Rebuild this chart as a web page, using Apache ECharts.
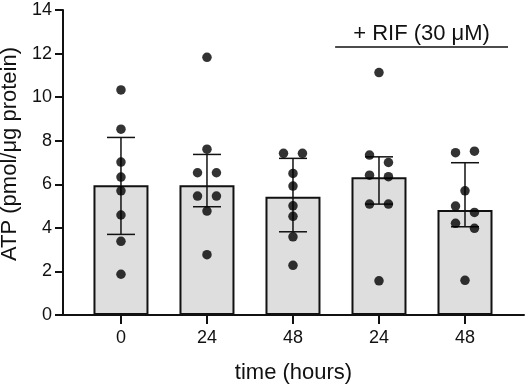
<!DOCTYPE html>
<html>
<head>
<meta charset="utf-8">
<script src="https://cdn.jsdelivr.net/npm/echarts@6/dist/echarts.min.js"></script>
<style>
  html, body { margin: 0; padding: 0; background: #fff; }
  #chart { width: 526px; height: 385px; }
</style>
</head>
<body>
<div id="chart"></div>
<script>
// group labels on the x axis (time in hours; last two are + RIF)
const groups = ['0', '24', '48', '24', '48'];
// bar height = median, whiskers = interquartile range
const medians = [5.96, 5.96, 5.43, 6.32, 4.82];
const lowerQ = [3.70, 4.97, 3.82, 5.09, 4.05];
const upperQ = [8.15, 7.37, 7.19, 7.26, 6.99];
// individual replicate values per group
const points = [
  [10.33, 8.53, 7.02, 6.33, 5.70, 4.59, 3.38, 1.87],
  [11.83, 7.61, 6.53, 6.53, 5.46, 5.46, 4.77, 2.77],
  [7.42, 7.42, 6.50, 5.92, 5.01, 4.53, 3.59, 2.28],
  [11.13, 7.34, 7.00, 6.42, 6.35, 5.09, 5.09, 1.57],
  [7.52, 7.45, 5.70, 5.00, 4.71, 4.21, 3.98, 1.59]
];
// horizontal scatter of the dots, in category units
const jitter = [
  [0, 0, 0, 0, 0, 0, 0, 0],
  [0, 0, -0.11, 0.11, -0.11, 0.11, 0, 0],
  [-0.11, 0.11, 0, 0, 0, 0, 0, 0],
  [0, -0.11, 0.11, -0.11, 0.11, -0.11, 0.11, 0],
  [0.11, -0.11, 0, -0.11, 0.11, -0.11, 0.11, 0]
];
const rifLabel = '+ RIF (30 μM)';
const rifSpan = [2.49, 4.5];
const rifLevel = 12.32;

const FONT = 'Arial, "Liberation Sans", sans-serif';
const INK = '#111';

const groupIdx = groups.map((_, i) => i);
const barData = medians.map((m, i) => [i, m]);
const errData = medians.map((m, i) => [i, lowerQ[i], upperQ[i]]);
const dotData = [];
points.forEach((vals, i) => {
  vals.forEach((v, j) => dotData.push([i + jitter[i][j], v]));
});

const chart = echarts.init(document.getElementById('chart'), null, { renderer: 'canvas' });

chart.setOption({
  backgroundColor: '#fff',
  animation: false,
  grid: { left: 63, right: 2, top: 10, bottom: 70, containLabel: false, outerBoundsMode: 'none' },
  xAxis: {
    type: 'value',
    min: -0.674,
    max: 4.686,
    name: 'time (hours)',
    nameLocation: 'middle',
    nameGap: 47,
    nameTextStyle: { fontFamily: FONT, fontSize: 22, color: INK },
    splitLine: { show: false },
    axisLine: { onZero: false, lineStyle: { color: INK, width: 2 } },
    axisTick: { show: true, customValues: groupIdx, length: 9, lineStyle: { color: INK, width: 2 } },
    axisLabel: {
      customValues: groupIdx,
      formatter: v => groups[Math.round(v)],
      fontFamily: FONT, fontSize: 18, color: INK, margin: 14
    }
  },
  yAxis: {
    type: 'value',
    min: 0,
    max: 14,
    interval: 2,
    name: 'ATP (pmol/μg protein)',
    nameLocation: 'middle',
    nameGap: 41,
    nameTextStyle: { fontFamily: FONT, fontSize: 22, color: INK, padding: [0, 0, 0, 17] },
    splitLine: { show: false },
    axisLine: { show: true, onZero: false, lineStyle: { color: INK, width: 2 } },
    axisTick: { show: true, length: 8, lineStyle: { color: INK, width: 2 } },
    axisLabel: { fontFamily: FONT, fontSize: 18, color: INK, margin: 11 }
  },
  series: [
    {
      type: 'bar',
      data: barData,
      barWidth: 55,
      itemStyle: { color: '#dedede', borderColor: INK, borderWidth: 2 },
      silent: true,
      z: 2
    },
    {
      type: 'custom',
      data: errData,
      encode: { x: 0, y: [1, 2] },
      silent: true,
      z: 3,
      renderItem: (params, api) => {
        const x = api.value(0);
        const lo = api.coord([x, api.value(1)]);
        const hi = api.coord([x, api.value(2)]);
        const half = 14;
        const style = { stroke: INK, lineWidth: 1.5 };
        return {
          type: 'group',
          children: [
            { type: 'line', shape: { x1: lo[0], y1: lo[1], x2: hi[0], y2: hi[1] }, style },
            { type: 'line', shape: { x1: lo[0] - half, y1: lo[1], x2: lo[0] + half, y2: lo[1] }, style },
            { type: 'line', shape: { x1: hi[0] - half, y1: hi[1], x2: hi[0] + half, y2: hi[1] }, style }
          ]
        };
      }
    },
    {
      type: 'scatter',
      data: dotData,
      symbol: 'circle',
      symbolSize: 9.5,
      itemStyle: { color: '#000' },
      silent: true,
      z: 4,
      markLine: {
        silent: true,
        symbol: 'none',
        lineStyle: { color: INK, width: 1.5, type: 'solid' },
        label: {
          show: true,
          position: 'insideMiddleTop',
          formatter: rifLabel,
          fontFamily: FONT,
          fontSize: 22,
          color: INK,
          distance: 2
        },
        data: [[{ coord: [rifSpan[0], rifLevel] }, { coord: [rifSpan[1], rifLevel] }]]
      }
    }
  ]
});
</script>
</body>
</html>
